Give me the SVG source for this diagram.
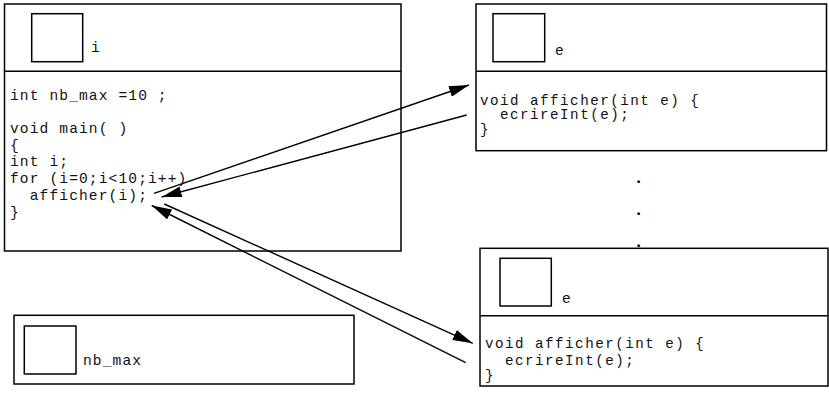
<svg xmlns="http://www.w3.org/2000/svg" width="829" height="396" viewBox="0 0 829 396">
<style>
.box{fill:none;stroke:#000;stroke-width:1.5}
.sq{fill:#fff;stroke:#000;stroke-width:1.5}
.code{font-family:"Liberation Mono","Courier New",monospace;font-size:14.6px;letter-spacing:1.1px;fill:#111;white-space:pre}
.code2{font-family:"Liberation Mono","Courier New",monospace;font-size:14.2px;letter-spacing:1.5px;fill:#111;white-space:pre}
.dot{font-family:"Liberation Sans",Arial,sans-serif;font-weight:bold;font-size:17px;fill:#000;text-anchor:middle}
.conn{stroke:#000;stroke-width:1.4;fill:none;marker-end:url(#ah)}
</style>
<defs>
<marker id="ah" markerUnits="userSpaceOnUse" markerWidth="20" markerHeight="11" refX="20" refY="5.5" orient="auto">
<path d="M0,0 L20,5.5 L0,11 z" fill="#000"/>
</marker>
</defs>
<rect width="829" height="396" fill="#fff"/>

<g id="main">
<rect class="box" x="4.5" y="4" width="396.5" height="247"/>
<line class="box" x1="4.5" y1="71.3" x2="401" y2="71.3"/>
<rect class="sq" x="31.7" y="13.7" width="51" height="48"/>
<text class="code" x="91" y="52">i</text>
<text class="code" x="10" y="100">int nb_max =10 ;</text>
<text class="code" x="10" y="133">void main( )</text>
<text class="code" x="10" y="150">{</text>
<text class="code" x="10" y="166">int i;</text>
<text class="code" x="10" y="183">for (i=0;i&lt;10;i++)</text>
<text class="code" x="10" y="200">  afficher(i);</text>
<text class="code" x="10" y="216.5">}</text>
</g>

<g id="afficher1">
<rect class="box" x="476" y="4" width="350.5" height="146.7"/>
<line class="box" x1="476" y1="71.3" x2="826.5" y2="71.3"/>
<rect class="sq" x="493" y="13.7" width="51.7" height="48"/>
<text class="code" x="555" y="55">e</text>
<text class="code2" x="480" y="104.5">void afficher(int e) {</text>
<text class="code2" x="480" y="119">  ecrireInt(e);</text>
<text class="code2" x="480" y="133.5">}</text>
</g>

<g id="dots">
<text class="dot" x="638.5" y="183">.</text>
<text class="dot" x="638.5" y="215">.</text>
<text class="dot" x="638.5" y="246.5">.</text>
</g>

<g id="afficher2">
<rect class="box" x="480" y="248.3" width="348" height="137.7"/>
<line class="box" x1="480" y1="315.7" x2="828" y2="315.7"/>
<rect class="sq" x="500" y="258.3" width="51.3" height="47.7"/>
<text class="code" x="562" y="303">e</text>
<text class="code2" x="485" y="348.3">void afficher(int e) {</text>
<text class="code2" x="485" y="365">  ecrireInt(e);</text>
<text class="code2" x="485" y="380">}</text>
</g>

<g id="nb_max">
<rect class="box" x="14" y="315.3" width="340" height="68.7"/>
<rect class="sq" x="24.3" y="326" width="51.7" height="48"/>
<text class="code" x="83" y="365">nb_max</text>
</g>

<g id="connectors">
<line class="conn" x1="154" y1="193.3" x2="469" y2="85"/>
<line class="conn" x1="466.7" y1="115" x2="161.7" y2="197"/>
<line class="conn" x1="164.3" y1="204" x2="472.7" y2="343.3"/>
<line class="conn" x1="465.7" y1="362.7" x2="151.7" y2="205.5"/>
</g>
</svg>
